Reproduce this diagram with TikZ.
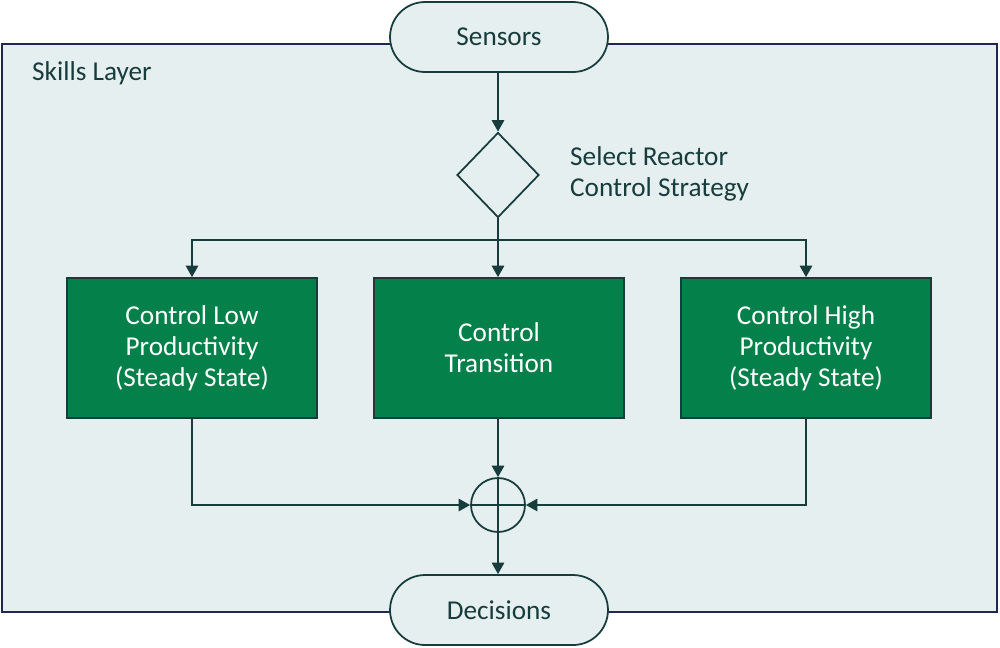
\documentclass[tikz,border=0pt]{standalone}
\usepackage{fontspec}
\setmainfont{Carlito}
\usetikzlibrary{arrows.meta,shapes.geometric}
\definecolor{bgc}{HTML}{E6EFF0}
\definecolor{grn}{HTML}{04804A}
\definecolor{ink}{HTML}{163C3C}
\definecolor{frame}{HTML}{1E2850}
\begin{document}
\begin{tikzpicture}[x=0.02cm,y=-0.02cm,
  every node/.style={font=\fontsize{15.5}{17.5}\selectfont, text=ink},
  pill/.style={draw=ink, fill=bgc, line width=1pt, rounded corners=0.7cm, minimum width=4.36cm, minimum height=1.4cm},
  ctrl/.style={draw=ink, fill=grn, line width=1pt, minimum width=5cm, minimum height=2.8cm, text=white, align=center},
  conn/.style={draw=ink, line width=1pt},
  arr/.style={conn, -{Triangle[length=6.5pt,width=7pt]}}]
\useasboundingbox (0,0) rectangle (1000,647);
\fill[white] (0,0) rectangle (1000,647);
\node[draw=frame, fill=bgc, line width=1pt, minimum width=19.9cm, minimum height=11.36cm, inner sep=0pt] (layer) at (499.5,328) {};
\node[anchor=west] (lbl) at (26,73) {Skills Layer};
\node[pill] (sens) at (499,37) {Sensors};
\node[pill] (dec) at (499,610) {Decisions};
\node[draw=ink, line width=1pt, diamond, minimum width=1.64cm, minimum height=1.7cm, inner sep=0pt] (dia) at (498,175) {};
\node[anchor=west, align=left] (dtxt) at (564,174) {Select Reactor\\Control Strategy};
\node[ctrl] (b1) at (192,348) {Control Low\\Productivity\\(Steady State)};
\node[ctrl] (b2) at (499,348) {Control\\Transition};
\node[ctrl] (b3) at (806,348) {Control High\\Productivity\\(Steady State)};
\node[draw=ink, line width=1pt, circle, minimum size=1.08cm, inner sep=0pt] (sum) at (498,505) {};
\draw[conn] (sum.north) -- (sum.south);
\draw[conn] (sum.west) -- (sum.east);
\coordinate (jn) at (498,240);
\draw[arr] (sens.south -| dia.north) -- (dia.north);
\draw[conn] (dia.south) -- (jn);
\draw[arr] (jn) -| (b1.north);
\draw[arr] (jn) -| (b3.north);
\draw[arr] (jn) -- (jn |- b2.north);
\draw[arr] (b1.south) |- (sum.west);
\draw[arr] (b3.south) |- (sum.east);
\draw[arr] (b2.south -| sum.north) -- (sum.north);
\draw[arr] (sum.south) -- (sum.south |- dec.north);
\end{tikzpicture}
\end{document}
